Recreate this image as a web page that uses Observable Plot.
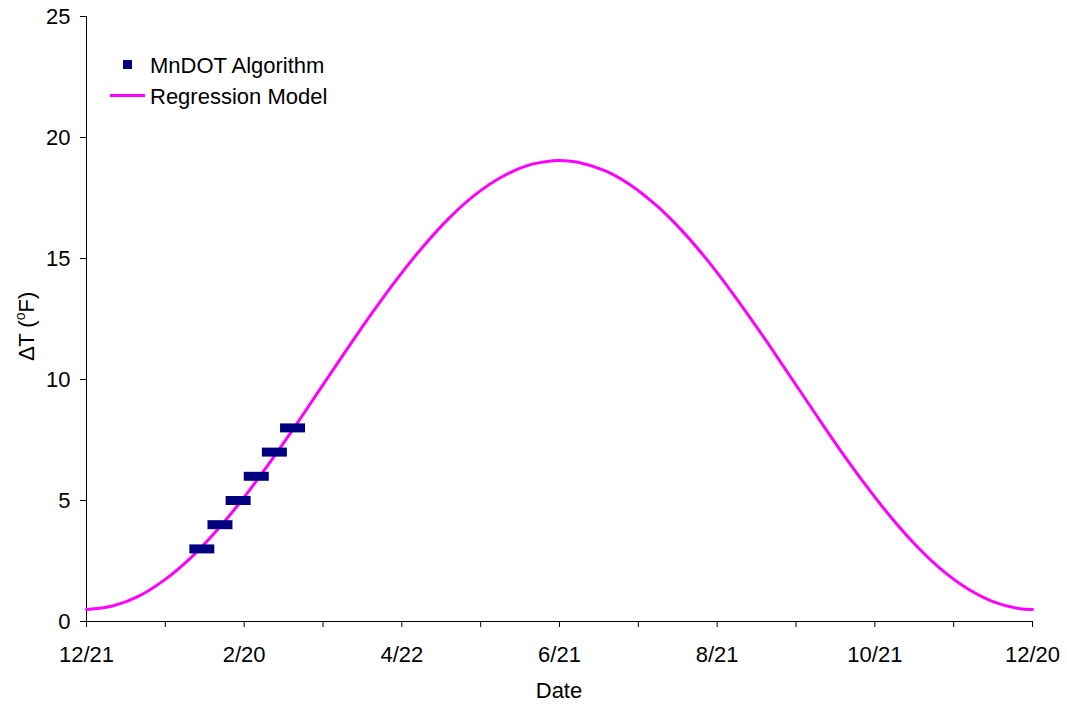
<!DOCTYPE html>
<html>
<head>
<meta charset="utf-8">
<script src="https://cdn.jsdelivr.net/npm/d3@7"></script>
<script src="https://cdn.jsdelivr.net/npm/@observablehq/plot@0.6"></script>
<style>
  html, body { margin: 0; padding: 0; background: #fff; }
  #chart svg { display: block; }
</style>
</head>
<body>
<div id="chart"></div>
<script>
// Regression model curve: day since 12/21 and ΔT (°F)
const modelDays = [0, 10, 20, 30, 40, 50, 60, 70, 80, 90, 100, 110, 120, 130, 140, 150, 160, 170, 180, 182.5,
                   190, 200, 210, 220, 230, 240, 250, 260, 270, 280, 290, 300, 310, 320, 330, 340, 350, 360, 365];
const modelDT   = [0.50, 0.64, 1.04, 1.71, 2.61, 3.73, 5.02, 6.46, 7.99, 9.58, 11.17, 12.72, 14.18, 15.51, 16.68, 17.64, 18.36, 18.84, 19.04, 19.05,
                   18.97, 18.63, 18.03, 17.18, 16.12, 14.87, 13.46, 11.95, 10.37, 8.78, 7.21, 5.73, 4.36, 3.15, 2.13, 1.35, 0.81, 0.53, 0.50];

// MnDOT algorithm points
const mndotDays = [44.5, 51.5, 58.5, 65.5, 72.5, 79.5];
const mndotDT   = [3, 4, 5, 6, 7, 8];

// Axis ticks
const xTickDays   = [0, 30.42, 60.83, 91.25, 121.67, 152.08, 182.5, 212.92, 243.33, 273.75, 304.17, 334.58, 365];
const xTickLabels = ["12/21", "", "2/20", "", "4/22", "", "6/21", "", "8/21", "", "10/21", "", "12/20"];
const yTicks      = [0, 5, 10, 15, 20, 25];

const curve = modelDays.map((d, i) => ({day: d, dT: modelDT[i]}));
const mndot = mndotDays.map((d, i) => ({day: d, dT: mndotDT[i]}));

const rectSymbol = {
  draw(ctx, size) {
    const w = 12.5, h = 4.5;
    ctx.moveTo(-w, -h); ctx.lineTo(w, -h); ctx.lineTo(w, h); ctx.lineTo(-w, h); ctx.closePath();
  }
};

const FONT = "'Liberation Sans', Arial, sans-serif";
const FS = 22;

const plot = Plot.plot({
  width: 1067,
  height: 706,
  marginLeft: 86,
  marginRight: 35,
  marginTop: 16,
  marginBottom: 85,
  style: {fontFamily: FONT, background: "#fff", color: "#000"},
  x: {domain: [0, 365]},
  y: {domain: [0, 25]},
  marks: [
    Plot.axisY({ticks: yTicks, tickSize: 6, tickPadding: 10, fontSize: FS, label: null, stroke: "#000"}),
    Plot.axisX({ticks: xTickDays, tickSize: 6, tickPadding: 19, fontSize: FS, label: null,
      tickFormat: (d) => xTickLabels[xTickDays.indexOf(d)], stroke: "#000"}),
    Plot.ruleX([0], {stroke: "#000", strokeWidth: 1}),
    Plot.ruleY([0], {stroke: "#000", strokeWidth: 1}),
    Plot.line(curve, {x: "day", y: "dT", stroke: "#FF00FF", strokeWidth: 3, curve: "catmull-rom"}),
    Plot.dot(mndot, {x: "day", y: "dT", symbol: rectSymbol, fill: "#000080", stroke: "none", r: 5})
  ]
});

document.getElementById("chart").appendChild(plot);

const svg = d3.select(plot);

// Y axis label with superscript
const yl = svg.append("text")
  .attr("transform", "translate(34,326) rotate(-90)")
  .attr("text-anchor", "middle")
  .attr("font-family", FONT)
  .attr("font-size", FS)
  .attr("fill", "#000");
yl.append("tspan").text("\u2206T (");
yl.append("tspan").attr("font-size", 14).attr("dy", -9).text("o");
yl.append("tspan").attr("dy", 9).text("F)");

// X axis label
svg.append("text")
  .attr("x", 559).attr("y", 698)
  .attr("text-anchor", "middle")
  .attr("font-family", FONT)
  .attr("font-size", FS)
  .attr("fill", "#000")
  .text("Date");

// Legend
const lg = svg.append("g")
  .attr("font-family", FONT).attr("font-size", FS).attr("fill", "#000").attr("text-anchor", "start");
lg.append("rect").attr("x", 123).attr("y", 60).attr("width", 9).attr("height", 9).attr("fill", "#000080");
lg.append("text").attr("x", 150).attr("y", 72.5).text("MnDOT Algorithm");
lg.append("line").attr("x1", 110).attr("x2", 145).attr("y1", 95.5).attr("y2", 95.5)
  .attr("stroke", "#FF00FF").attr("stroke-width", 3);
lg.append("text").attr("x", 150).attr("y", 103.5).text("Regression Model");
</script>
</body>
</html>
